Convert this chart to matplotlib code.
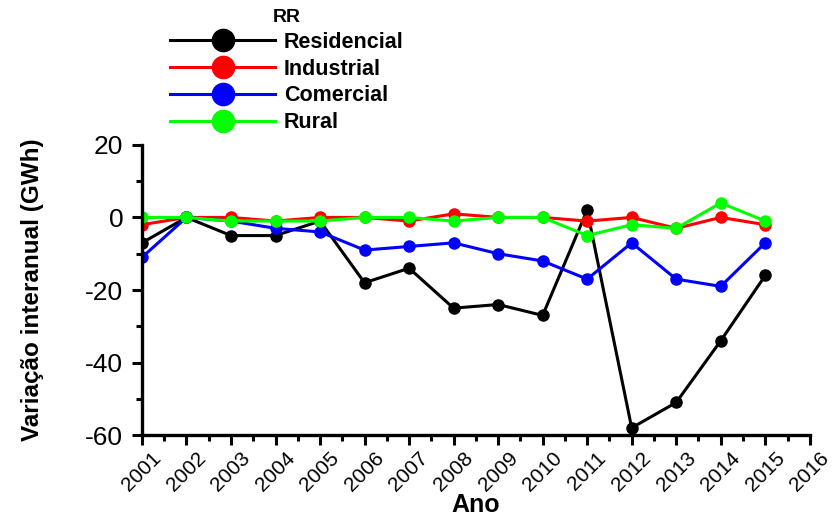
import matplotlib
matplotlib.use("Agg")
import matplotlib.pyplot as plt
from matplotlib.ticker import MultipleLocator

plt.rcParams['font.family'] = ['Liberation Sans', 'DejaVu Sans']
plt.rcParams['axes.unicode_minus'] = False

anos = list(range(2001, 2016))
residencial = [-7, 0, -5, -5, -1, -18, -14, -25, -24, -27, 2, -58, -51, -34, -16]
industrial = [-2, 0, 0, -1, 0, 0, -1, 1, 0, 0, -1, 0, -3, 0, -2]
comercial = [-11, 0, -1, -3, -4, -9, -8, -7, -10, -12, -17, -7, -17, -19, -7]
rural = [0, 0, -1, -1, -1, 0, 0, -1, 0, 0, -5, -2, -3, 4, -1]

series = [
    ("Residencial", residencial, "#000000"),
    ("Industrial", industrial, "#ff0000"),
    ("Comercial", comercial, "#0000ff"),
    ("Rural", rural, "#00ff00"),
]

fig = plt.figure(figsize=(8.4, 5.23), dpi=100)
ax = fig.add_axes([0.169, 0.168, 0.795, 0.555])

for nome, valores, cor in series:
    ax.plot(anos, valores, color=cor, lw=2.2, marker='o', ms=8, label=nome)

ax.set_xlim(2001, 2016)
ax.set_ylim(-60, 20)
ax.set_xticks(range(2001, 2017))
ax.set_xticklabels([str(a) for a in range(2001, 2017)], rotation=45,
                   ha='center', fontsize=15)
ax.xaxis.set_minor_locator(MultipleLocator(0.5))
ax.yaxis.set_major_locator(MultipleLocator(20))
ax.yaxis.set_minor_locator(MultipleLocator(10))
ax.tick_params(axis='y', labelsize=19, pad=6)
ax.tick_params(axis='x', pad=2)
ax.tick_params(which='major', length=7.5, width=2.2, direction='out')
ax.tick_params(which='minor', length=4, width=2.2, direction='out')

for s in ['top', 'right']:
    ax.spines[s].set_visible(False)
for s in ['left', 'bottom']:
    ax.spines[s].set_linewidth(2.4)

ax.set_xlabel("Ano", fontsize=18, fontweight='bold', labelpad=-1)
ax.set_ylabel("Variação interanual (GWh)", fontsize=17.5, fontweight='bold')
ax.yaxis.set_label_coords(-0.147, 0.5)

leg = fig.legend(loc='upper left', bbox_to_anchor=(170 / 840, 1 - 9 / 523),
                 frameon=False, title="RR", markerscale=2.0, handlelength=4.9,
                 prop={'weight': 'bold', 'size': 15.5},
                 labelspacing=0.27, handletextpad=0.4, borderpad=0,
                 borderaxespad=0)
leg.get_title().set_fontweight('bold')
leg.get_title().set_fontsize(14)

fig.savefig("out.png", dpi=100)
